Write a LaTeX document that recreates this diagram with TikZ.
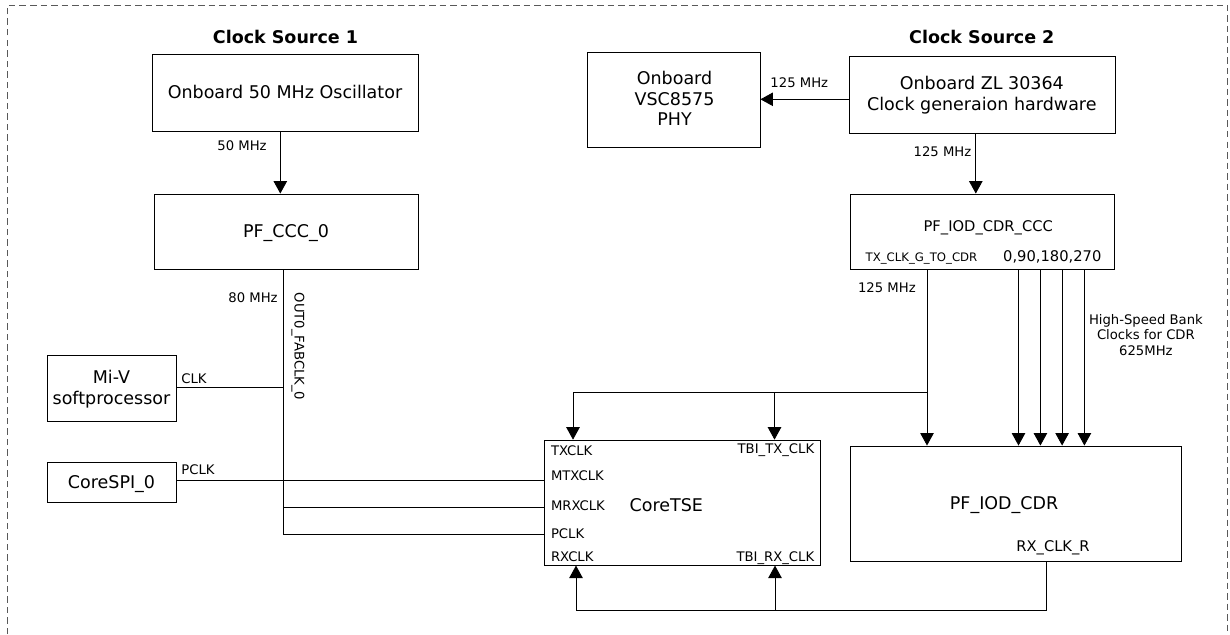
\documentclass[tikz,border=0pt]{standalone}
\usepackage{fontspec}
\setmainfont{DejaVu Sans}
\usetikzlibrary{arrows.meta}
\begin{document}
\begin{tikzpicture}[x=1pt,y=-1pt,
  box/.style={draw, line width=0.9pt, inner sep=0pt, anchor=center},
  wire/.style={line width=0.9pt},
  arr/.style={wire, -{Triangle[length=12.5pt,width=13.5pt]}},
  frame/.style={draw=black!65, line width=1.2pt, dash pattern=on 6.5pt off 4pt},
  lbl/.style={inner sep=0pt, anchor=center},
  fbig/.style={font=\fontsize{17.5}{21}\selectfont, text height=12.8pt, text depth=0pt},
  fbold/.style={font=\bfseries\fontsize{17.5}{21}\selectfont, text height=12.8pt, text depth=0pt},
  fmid/.style={font=\fontsize{14.7}{17}\selectfont, text height=10.7pt, text depth=0pt},
  fsmall/.style={font=\fontsize{13.2}{16}\selectfont, text height=9.6pt, text depth=0pt},
  ftiny/.style={font=\fontsize{11.7}{14}\selectfont, text height=8.5pt, text depth=0pt},
]
\useasboundingbox (0,0) rectangle (1230,634);
% frame
\draw[frame] (7.5,634) -- (7.5,5.5) -- (1227.5,5.5) -- (1227.5,634);

% headings
\node[lbl,fbold] (cs1) at (285.5,36.7) {Clock Source 1};
\node[lbl,fbold] (cs2) at (981.8,36.7) {Clock Source 2};

% boxes
\node[box, fbig, minimum width=266pt, minimum height=77pt] (osc) at (285,92.5) {Onboard 50 MHz Oscillator};
\node[box, fbig, minimum width=264pt, minimum height=75pt] (ccc0) at (286,231.5) {PF\_CCC\_0};
\node[box, minimum width=173pt, minimum height=95pt] (phy) at (673.5,99.5) {};
\node[box, minimum width=266pt, minimum height=77pt] (zl) at (982,94.5) {};
\node[box, minimum width=264pt, minimum height=75pt] (cdrccc) at (982,231.5) {};
\node[box, minimum width=129pt, minimum height=66pt] (miv) at (111.5,388) {};
\node[box, fbig, minimum width=129pt, minimum height=40pt] (spi) at (111.5,482) {CoreSPI\_0};
\node[box, minimum width=276pt, minimum height=125pt] (tse) at (682.6,502.6) {};
\node[box, minimum width=331pt, minimum height=115pt] (cdr) at (1015.5,503.5) {};

% box texts
\node[lbl,fbig] (phy1) at (674.5,77.7) {Onboard};
\node[lbl,fbig] (phy2) at (674.5,99) {VSC8575};
\node[lbl,fbig] (phy3) at (674.5,119.3) {PHY};
\node[lbl,fbig] (zl1) at (981.8,82.7) {Onboard ZL 30364};
\node[lbl,fbig] (zl2) at (981.8,104) {Clock generaion hardware};
\node[lbl,fmid] (cdrccct) at (988.2,226) {PF\_IOD\_CDR\_CCC};
\node[lbl,ftiny] (txg) at (921.5,257.7) {TX\_CLK\_G\_TO\_CDR};
\node[lbl,fmid] (phase) at (1052.3,256) {0,90,180,270};
\node[lbl,fbig] (miv1) at (111.5,376.7) {Mi-V};
\node[lbl,fbig] (miv2) at (111.5,398.3) {softprocessor};
\node[lbl,fbig] (tset) at (666.3,504.7) {CoreTSE};
\node[lbl,fbig] (cdrt) at (1004.1,502.7) {PF\_IOD\_CDR};
\node[lbl,fmid] (rxclkr) at (1053,546.3) {RX\_CLK\_R};
\node[lbl,fsmall,anchor=west] (ptx) at (550.8,451) {TXCLK};
\node[lbl,fsmall,anchor=west] (pmtx) at (550.8,476) {MTXCLK};
\node[lbl,fsmall,anchor=west] (pmrx) at (550.8,506) {MRXCLK};
\node[lbl,fsmall,anchor=west] (ppclk) at (550.8,533.3) {PCLK};
\node[lbl,fsmall,anchor=west] (prx) at (550.8,557) {RXCLK};
\node[lbl,fsmall,anchor=east] (ptbitx) at (814.4,448.3) {TBI\_TX\_CLK};
\node[lbl,fsmall,anchor=east] (ptbirx) at (814.4,556.3) {TBI\_RX\_CLK};

% wire labels
\node[lbl,fsmall] (l50) at (242,146) {50 MHz};
\node[lbl,fsmall] (l80) at (253,297.7) {80 MHz};
\node[lbl,fsmall,rotate=-90] (lout) at (299.3,346.5) {OUT0\_FABCLK\_0};
\node[lbl,fsmall] (l125a) at (799.3,82.7) {125 MHz};
\node[lbl,fsmall] (l125b) at (942.5,151.7) {125 MHz};
\node[lbl,fsmall] (l125c) at (886.9,287.7) {125 MHz};
\node[lbl,fsmall] (lclk) at (194,378.3) {CLK};
\node[lbl,fsmall] (lpclk) at (198,469.3) {PCLK};
\node[lbl,fsmall] (hs1) at (1145.9,319.3) {High-Speed Bank};
\node[lbl,fsmall] (hs2) at (1145.9,335) {Clocks for CDR};
\node[lbl,fsmall] (hs3) at (1145.9,351) {625MHz};

% helper coordinates
\coordinate (xa) at (280.3,0);
\coordinate (xbus) at (283,0);
\coordinate (xzl) at (975.8,0);
\coordinate (xtx) at (927,0);
\coordinate (xq1) at (1018.5,0);
\coordinate (xq2) at (1040.4,0);
\coordinate (xq3) at (1062.1,0);
\coordinate (xq4) at (1084.4,0);
\coordinate (xtsetx) at (573,0);
\coordinate (xtbitx) at (774.5,0);
\coordinate (xrx) at (1046.7,0);
\coordinate (xtserx) at (576,0);
\coordinate (xtbirx) at (775,0);
\coordinate (yphy) at (0,99.3);
\coordinate (yclk) at (0,387);
\coordinate (ypclk) at (0,480.3);
\coordinate (ymrx) at (0,507.7);
\coordinate (ypc) at (0,534.7);
\coordinate (ybr) at (0,392.3);
\coordinate (ybot) at (0,610.7);

% connectors
\draw[arr] (osc.south -| xa) -- (ccc0.north -| xa);
\draw[wire] (ccc0.south -| xbus) -- (xbus |- ypc) -- (tse.west |- ypc);
\draw[wire] (miv.east |- yclk) -- (xbus |- yclk);
\draw[wire] (spi.east |- ypclk) -- (tse.west |- ypclk);
\draw[wire] (xbus |- ymrx) -- (tse.west |- ymrx);
\draw[arr] (zl.west |- yphy) -- (phy.east |- yphy);
\draw[arr] (zl.south -| xzl) -- (cdrccc.north -| xzl);
\draw[arr] (cdrccc.south -| xtx) -- (cdr.north -| xtx);
\draw[arr] (xtx |- ybr) -| (tse.north -| xtsetx);
\draw[arr] (xtbitx |- ybr) -- (tse.north -| xtbitx);
\foreach \q in {xq1,xq2,xq3,xq4}
  \draw[arr] (cdrccc.south -| \q) -- (cdr.north -| \q);
\draw[arr] (cdr.south -| xrx) |- (xtserx |- ybot) -- (tse.south -| xtserx);
\draw[arr] (xtbirx |- ybot) -- (tse.south -| xtbirx);
\end{tikzpicture}
\end{document}
